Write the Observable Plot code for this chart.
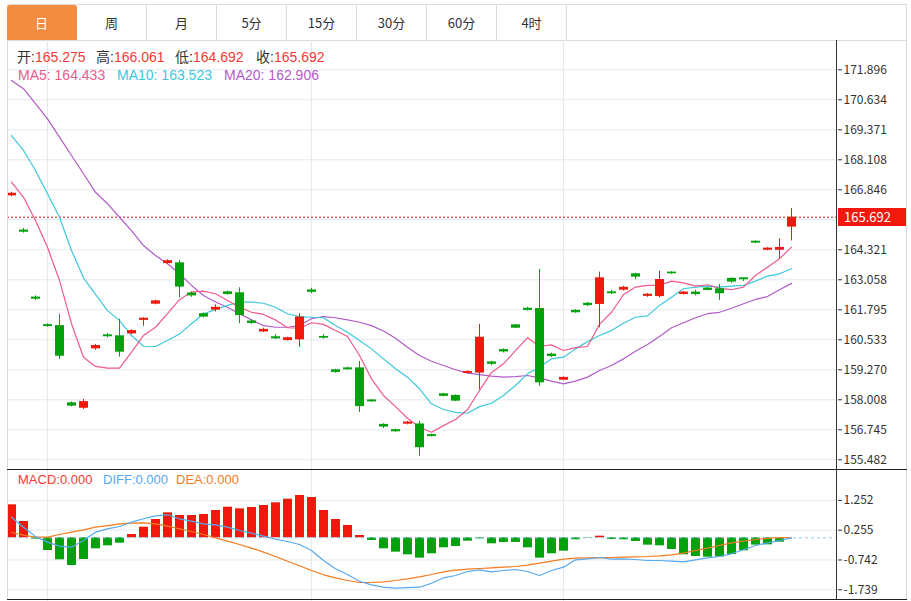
<!DOCTYPE html>
<html>
<head>
<meta charset="utf-8">
<script src="https://cdn.jsdelivr.net/npm/d3@7"></script>
<script src="https://cdn.jsdelivr.net/npm/@observablehq/plot@0.6"></script>
<style>
  html, body { margin: 0; padding: 0; background: #fff; }
  body { font-family: "Noto Sans CJK SC", "Noto Sans", sans-serif; }
  #wrap { position: relative; width: 911px; height: 601px; overflow: hidden; background: #fff; }
  .tabs { position: absolute; left: 7px; top: 4px; width: 899px; height: 35px;
          border-top: 1px solid #dcdcdc; border-bottom: 1px solid #dcdcdc; }
  .tab { position: absolute; top: 0; height: 35px; width: 69px; border-right: 1px solid #dcdcdc;
         font-size: 13px; color: #333; text-align: center; line-height: 35px; box-sizing: content-box; }
  .tab.on { background: #f38b40; color: #fff; border-radius: 3px 3px 0 0; border-right-color: #f38b40; }
  .vline { position: absolute; width: 1px; }
  .hline { position: absolute; height: 1px; }
  .lbl { position: absolute; font-family: "Liberation Sans", "Noto Sans CJK SC", sans-serif;
         font-size: 14px; white-space: nowrap; line-height: 16px; }
  .lbl.sm { font-size: 13px; }
  .k { color: #333; }
  .red { color: #f43a33; }
  #plots svg { position: absolute; left: 0; }
  #price { position: absolute; left: 838px; width: 62px; height: 18px; padding-left: 6px;
           background: #f2190c; color: #fff; font-size: 13px; line-height: 18px; }
</style>
</head>
<body>
<div id="wrap">
  <div class="tabs" id="tabs"></div>
  <div id="plots"></div>
</div>
<script>
// ---------------- data ----------------
const tabLabels = ["日", "周", "月", "5分", "15分", "30分", "60分", "4时"];

const open  = [166.59,165.15,162.33,161.17,161.13,157.88,157.65,160.15,160.74,160.70,
               160.78,161.35,162.03,163.74,163.77,162.50,161.63,161.78,162.55,162.51,
               161.32,160.86,160.66,160.50,160.53,162.63,160.67,159.27,159.35,159.35,
               158.00,156.97,156.75,156.98,156.99,156.54,158.26,158.19,159.12,159.13,
               159.60,160.12,161.16,161.86,161.85,159.93,158.83,161.77,162.07,162.02,
               162.55,162.62,163.31,162.36,162.35,163.38,162.44,162.54,162.71,162.68,
               163.12,163.14,164.68,164.30,164.30,165.275];
const high  = [166.74,165.22,162.38,161.20,161.60,157.92,158.02,160.34,160.80,161.40,
               160.95,161.46,162.20,163.90,163.87,162.55,161.66,162.00,162.58,162.72,
               161.36,161.02,160.74,160.64,161.63,162.70,160.74,159.29,159.38,159.62,
               158.02,157.00,156.77,157.10,157.10,156.56,158.28,158.21,159.22,161.18,
               159.63,160.15,161.18,161.90,163.49,159.97,158.97,161.80,162.10,163.38,
               162.62,162.78,163.33,162.48,163.42,163.40,162.56,162.62,162.73,162.86,
               163.13,163.15,164.70,164.41,164.78,166.061];
const low   = [166.55,165.02,162.18,161.06,159.70,157.71,157.60,160.09,160.62,159.80,
               160.75,161.10,162.00,163.71,162.30,162.32,161.46,161.70,162.41,161.21,
               161.18,160.84,160.55,160.48,160.22,162.48,160.56,159.12,159.25,157.47,
               157.90,156.80,156.64,156.95,155.63,156.44,158.13,157.93,159.10,158.43,
               159.44,159.98,161.00,161.74,158.58,159.79,158.81,161.65,161.93,161.04,
               162.44,162.58,163.06,162.32,162.30,163.29,162.42,162.38,162.59,162.19,
               162.91,162.98,164.58,164.28,163.94,164.692];
const close = [166.70,165.06,162.24,161.09,159.84,157.74,157.93,160.29,160.66,160.01,
               160.92,161.44,162.17,163.86,162.75,162.38,161.49,161.90,162.44,161.55,
               161.22,160.97,160.57,160.62,161.49,162.53,160.60,159.16,159.27,157.72,
               157.92,156.86,156.66,157.07,155.99,156.46,158.15,157.95,159.20,160.64,
               159.50,160.02,161.02,161.77,158.72,159.83,158.95,161.67,161.97,163.14,
               162.47,162.74,163.17,162.45,163.07,163.31,162.54,162.44,162.61,162.47,
               162.96,163.06,164.60,164.39,164.42,165.692];

const ma5  = [167.17,166.53,165.55,164.43,163.03,161.21,159.80,159.41,159.34,159.34,
              160.01,160.71,161.06,161.63,162.22,162.54,162.58,162.47,162.19,161.90,
              161.69,161.60,161.37,161.04,161.02,161.25,161.18,160.92,160.67,159.87,
              158.89,158.19,157.72,157.23,156.85,156.64,156.92,157.18,157.59,158.40,
              159.16,159.52,160.08,160.62,160.25,160.32,160.08,160.20,160.25,161.18,
              161.69,162.44,162.75,162.82,162.82,163.00,162.93,162.79,162.85,162.70,
              162.64,162.75,163.24,163.59,163.94,164.433];
const ma10 = [169.13,168.50,167.66,166.68,165.69,164.29,163.14,162.44,161.76,161.34,
              160.71,160.26,160.25,160.50,160.78,161.21,161.63,161.80,161.98,162.12,
              162.12,162.07,161.90,161.63,161.51,161.48,161.46,161.13,160.85,160.50,
              160.15,159.73,159.31,158.96,158.47,157.84,157.60,157.48,157.44,157.72,
              157.86,158.19,158.61,159.10,159.38,159.73,159.80,160.15,160.46,160.71,
              160.92,161.23,161.48,161.54,161.98,162.32,162.68,162.75,162.79,162.75,
              162.79,162.82,163.00,163.21,163.31,163.523];
const ma20 = [171.45,171.10,170.47,169.83,169.06,168.29,167.52,166.74,166.26,165.69,
              165.13,164.50,164.08,163.73,163.31,162.82,162.40,162.12,161.90,161.63,
              161.37,161.13,161.06,161.06,161.13,161.42,161.51,161.46,161.37,161.27,
              161.13,160.90,160.60,160.22,159.87,159.63,159.45,159.27,159.13,159.07,
              159.00,158.96,158.98,159.03,158.93,158.79,158.68,158.79,158.96,159.24,
              159.45,159.73,160.05,160.33,160.67,161.04,161.25,161.46,161.63,161.69,
              161.86,162.05,162.23,162.35,162.64,162.906];

const macd = [1.104,0.545,-0.047,-0.425,-0.736,-0.927,-0.726,-0.368,-0.268,-0.180,
              0.110,0.355,0.612,0.836,0.746,0.746,0.780,0.913,1.024,0.970,
              1.014,1.081,1.171,1.292,1.415,1.348,0.913,0.612,0.412,0.077,
              -0.090,-0.368,-0.480,-0.569,-0.680,-0.535,-0.335,-0.290,-0.113,-0.034,
              -0.200,-0.157,-0.157,-0.335,-0.680,-0.535,-0.447,-0.067,-0.013,0.054,
              -0.057,-0.067,-0.124,-0.246,-0.268,-0.390,-0.569,-0.626,-0.650,-0.640,
              -0.558,-0.435,-0.246,-0.235,-0.146,0.000];
const diff = [0.690,0.355,0.040,-0.146,-0.280,-0.313,-0.090,0.188,0.300,0.378,
              0.522,0.636,0.736,0.770,0.636,0.555,0.468,0.435,0.355,0.244,
              0.154,0.054,-0.047,-0.124,-0.224,-0.425,-0.760,-1.037,-1.228,-1.452,
              -1.573,-1.653,-1.686,-1.664,-1.653,-1.519,-1.338,-1.261,-1.128,-1.071,
              -1.138,-1.094,-1.061,-1.128,-1.261,-1.094,-0.983,-0.736,-0.703,-0.659,
              -0.716,-0.703,-0.726,-0.760,-0.760,-0.783,-0.803,-0.736,-0.669,-0.626,
              -0.535,-0.400,-0.258,-0.167,-0.090,0.000];
const dea  = [0.177,0.087,0.020,0.020,0.110,0.188,0.268,0.355,0.410,0.468,
              0.490,0.500,0.468,0.390,0.300,0.210,0.110,0.000,-0.113,-0.224,
              -0.346,-0.480,-0.626,-0.783,-0.937,-1.094,-1.238,-1.338,-1.429,-1.496,
              -1.496,-1.472,-1.429,-1.372,-1.305,-1.228,-1.138,-1.084,-1.051,-1.027,
              -1.004,-0.983,-0.960,-0.917,-0.850,-0.783,-0.716,-0.683,-0.669,-0.669,
              -0.659,-0.649,-0.637,-0.626,-0.603,-0.569,-0.515,-0.425,-0.346,-0.258,
              -0.167,-0.113,-0.057,-0.020,0.010,0.000];

const priceTicks = [171.896,170.634,169.371,168.108,166.846,165.583,164.321,163.058,161.795,160.533,159.270,158.008,156.745,155.482];
const macdTicks = [1.252,0.255,-0.742,-1.739];
const monthStarts = [3, 25, 46];   // candle indices where vertical grid lines fall

const lastOpen = 165.275, lastHigh = 166.061, lastLow = 164.692, lastClose = 165.692;
const lastMA5 = 164.433, lastMA10 = 163.523, lastMA20 = 162.906;
const lastMACD = 0, lastDIFF = 0, lastDEA = 0;

// ---------------- build ----------------
const RED = "#f2190c", GREEN = "#03a10c";
const GRID = "#e3e9ef";
const candles = open.map((o, i) => ({i, open: o, high: high[i], low: low[i], close: close[i]}));
const cColor = d => d.close >= d.open ? RED : GREEN;
// tick labels hidden behind the current-price tag are not drawn (as in the original)
const labeledPriceTicks = priceTicks.filter(v => Math.abs(v - lastClose) > 0.4);

// tabs
const tabs = document.getElementById("tabs");
tabLabels.forEach((t, k) => {
  const el = document.createElement("div");
  el.className = "tab" + (k === 0 ? " on" : "");
  el.style.left = (k * 70) + "px";
  el.textContent = t;
  tabs.appendChild(el);
});

const xDomain = [-1 / 3, 68 + 5 / 6];
const style = {fontFamily: '"Noto Sans CJK SC","Noto Sans",sans-serif', fontSize: "12px", color: "#333", background: "transparent", overflow: "visible"};

const main = Plot.plot({
  width: 911, height: 429,
  marginLeft: 7, marginRight: 74, marginTop: 0, marginBottom: 0,
  style,
  x: {domain: xDomain, axis: null},
  y: {domain: [155.073, 173.129], axis: null},
  marks: [
    Plot.gridY(priceTicks, {stroke: GRID, strokeOpacity: 1}),
    Plot.ruleX(monthStarts, {stroke: GRID}),
    Plot.axisY(labeledPriceTicks, {anchor: "right", tickSize: 4, tickPadding: 2, tickFormat: d => d.toFixed(3), stroke: "#333", fill: "#333", fontSize: 12}),
    Plot.ruleY([lastClose], {stroke: "#f01010", strokeDasharray: "2,2", strokeWidth: 1}),
    Plot.lineY(ma20, {stroke: "#b15cc9", strokeWidth: 1.2}),
    Plot.lineY(ma10, {stroke: "#3cc8de", strokeWidth: 1.2}),
    Plot.lineY(ma5, {stroke: "#ef5a8c", strokeWidth: 1.2}),
    Plot.ruleX(candles, {x: "i", y1: "low", y2: "high", stroke: cColor, strokeWidth: 1}),
    Plot.ruleX(candles, {x: "i", y1: "open", y2: "close", stroke: cColor, strokeWidth: 9})
  ]
});
main.style.top = "40px";

const sub = Plot.plot({
  width: 911, height: 132,
  marginLeft: 7, marginRight: 74, marginTop: 0, marginBottom: 0,
  style,
  x: {domain: xDomain, axis: null},
  y: {domain: [-2.131, 2.285], axis: null},
  marks: [
    Plot.gridY(macdTicks, {stroke: GRID, strokeOpacity: 1}),
    Plot.ruleX(monthStarts, {stroke: GRID}),
    Plot.axisY(macdTicks, {anchor: "right", tickSize: 4, tickPadding: 2, tickFormat: d => d.toFixed(3), stroke: "#333", fill: "#333", fontSize: 12}),
    Plot.ruleX(macd, {x: (d, i) => i, y1: 0, y2: d => d, stroke: d => d >= 0 ? RED : GREEN, strokeWidth: 9}),
    Plot.ruleY([0], {stroke: "#8ccbf2", strokeDasharray: "3,3"}),
    Plot.lineY(dea, {stroke: "#f57b1f", strokeWidth: 1.2}),
    Plot.lineY(diff, {stroke: "#56a9f0", strokeWidth: 1.2})
  ]
});
sub.style.top = "469px";

const plots = document.getElementById("plots");
plots.appendChild(main);
plots.appendChild(sub);

const wrap = document.getElementById("wrap");
function add(html, cls, css) {
  const el = document.createElement("div");
  el.className = cls;
  el.innerHTML = html;
  Object.assign(el.style, css);
  wrap.appendChild(el);
  return el;
}
// frame lines
add("", "vline", {left: "7px", top: "40px", height: "560px", background: "#dcdcdc"});
add("", "vline", {left: "906px", top: "4px", height: "596px", background: "#dcdcdc"});
add("", "vline", {left: "836px", top: "40px", height: "560px", background: "#333"});
add("", "hline", {left: "7px", top: "469px", width: "900px", background: "#222"});
add("", "hline", {left: "7px", top: "599px", width: "900px", background: "#222"});

// price tag positioned with the plot's y scale
const yPrice = main.scale("y").apply(lastClose);
const tag = add(lastClose.toFixed(3), "", {});
tag.id = "price";
tag.style.top = (40 + yPrice - 9) + "px";

// info labels
const f3 = v => v.toFixed(3);
const infoTop = "49px";
add(`<span class="k">开:</span><span class="red">${f3(lastOpen)}</span>`, "lbl", {left: "17px", top: infoTop});
add(`<span class="k">高:</span><span class="red">${f3(lastHigh)}</span>`, "lbl", {left: "96px", top: infoTop});
add(`<span class="k">低:</span><span class="red">${f3(lastLow)}</span>`, "lbl", {left: "175px", top: infoTop});
add(`<span class="k">收:</span><span class="red">${f3(lastClose)}</span>`, "lbl", {left: "256px", top: infoTop});
const maTop = "67px";
add(`MA5: ${f3(lastMA5)}`, "lbl", {left: "18px", top: maTop, color: "#ef5a8c"});
add(`MA10: ${f3(lastMA10)}`, "lbl", {left: "117px", top: maTop, color: "#3cc8de"});
add(`MA20: ${f3(lastMA20)}`, "lbl", {left: "224px", top: maTop, color: "#b15cc9"});
const mTop = "472px";
add(`MACD:${f3(lastMACD)}`, "lbl sm", {left: "18px", top: mTop, color: "#f43a33"});
add(`DIFF:${f3(lastDIFF)}`, "lbl sm", {left: "103px", top: mTop, color: "#56a9f0"});
add(`DEA:${f3(lastDEA)}`, "lbl sm", {left: "176px", top: mTop, color: "#f57b1f"});
</script>
</body>
</html>
